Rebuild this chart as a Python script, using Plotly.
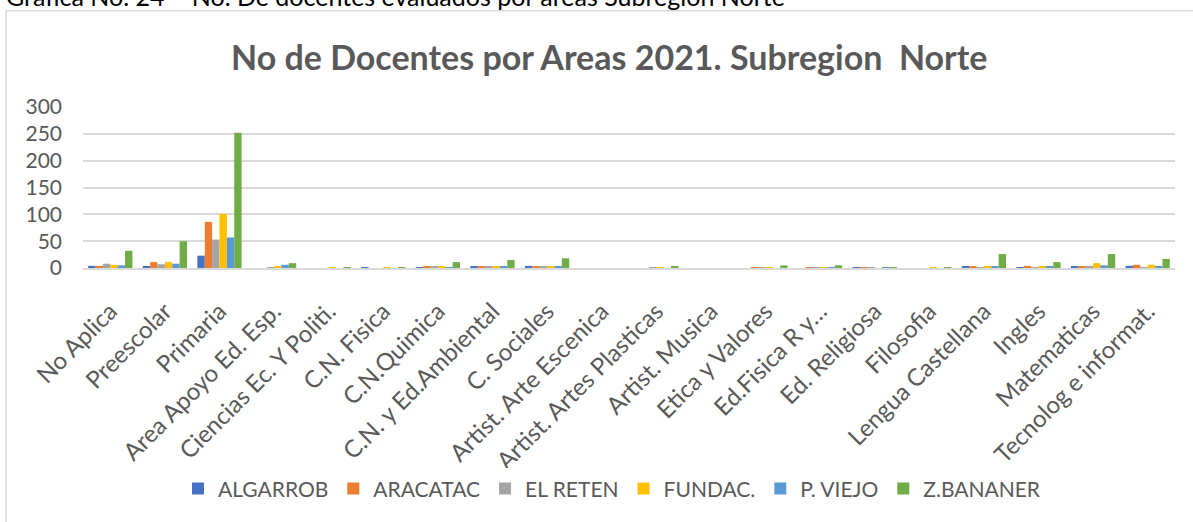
import plotly.graph_objects as go

categories = ["No Aplica", "Preescolar", "Primaria", "Area Apoyo Ed. Esp.", "Ciencias Ec. Y Politi.",
              "C.N. Fisica", "C.N.Quimica", "C.N. y Ed.Ambiental", "C. Sociales", "Artist. Arte Escenica",
              "Artist. Artes Plasticas", "Artist. Musica", "Etica y Valores", "Ed.Fisica R y…", "Ed. Religiosa",
              "Filosofia", "Lengua Castellana", "Ingles", "Matematicas", "Tecnolog e informat."]

series_names = ["ALGARROB", "ARACATAC", "EL RETEN", "FUNDAC.", "P. VIEJO", "Z.BANANER"]

algarrob = [4, 2, 23, 0, 0, 1, 1, 3, 4, 0, 0, 0, 0, 0, 1, 0, 3, 1, 2, 4]
aracatac = [4, 11, 86, 0, 0, 0, 2, 3, 3, 0, 0, 0, 1, 1, 1, 0, 3, 4, 3, 6]
el_reten = [8, 7, 53, 1, 0, 0, 3, 2, 3, 0, 1, 0, 1, 1, 1, 0, 1, 1, 4, 1]
fundac = [6, 11, 101, 2, 1, 1, 3, 3, 3, 0, 1, 0, 1, 1, 0, 1, 4, 3, 9, 6]
p_viejo = [5, 8, 57, 6, 0, 0, 1, 3, 3, 0, 0, 0, 0, 1, 1, 0, 3, 3, 5, 2]
z_bananer = [32, 50, 252, 9, 1, 1, 11, 15, 18, 0, 3, 0, 5, 5, 1, 1, 26, 11, 26, 17]

values = [algarrob, aracatac, el_reten, fundac, p_viejo, z_bananer]
colors = ["#4472C4", "#ED7D31", "#A5A5A5", "#FFC000", "#5B9BD5", "#70AD47"]

FONT = "Lato, Open Sans, sans-serif"
TXT = "#595959"

fig = go.Figure()
for name, vals, col in zip(series_names, values, colors):
    fig.add_trace(go.Bar(name=name, x=categories, y=vals, marker=dict(color=col, line=dict(width=0))))

W, H = 1193, 522
L, R, T, B = 83, 18, 107, 251
pw = W - L - R
ph = H - T - B

def px_x(x):
    return (x - L) / pw

def px_y(y):
    return (H - B - y) / ph

fig.update_layout(
    width=W, height=H,
    margin=dict(l=L, r=R, t=T, b=B),
    paper_bgcolor="white", plot_bgcolor="white",
    barmode="group", bargap=0.19, bargroupgap=0,
    font=dict(family=FONT, color=TXT),
    showlegend=True,
    legend=dict(orientation="h", x=px_x(612), xanchor="center", y=px_y(496), yanchor="middle",
                font=dict(size=21, color=TXT, family=FONT), itemwidth=30, traceorder="normal"),
    xaxis=dict(tickangle=-45, tickfont=dict(size=24, color=TXT, family=FONT),
               showline=True, linecolor="#D9D9D9", linewidth=1.5, ticks="", showgrid=False,
               ticklabelstandoff=18, automargin=False),
    yaxis=dict(range=[0, 300], dtick=50, tickfont=dict(size=21, color=TXT, family=FONT),
               showgrid=True, gridcolor="#D9D9D9", gridwidth=1.5, zeroline=False, showline=False,
               ticks="", ticklen=0, ticklabelstandoff=20, automargin=False),
    annotations=[
        dict(text="<b>No de Docentes por Areas 2021. Subregion  Norte</b>", xref="paper", yref="paper",
             x=px_x(609), y=px_y(56), xanchor="center", yanchor="middle", showarrow=False,
             font=dict(size=34, color=TXT, family=FONT)),
        dict(text="Grafica No. 24 – No. De docentes evaluados por areas Subregion Norte", xref="paper", yref="paper",
             x=px_x(4), y=px_y(-6), xanchor="left", yanchor="middle", showarrow=False,
             font=dict(size=25, color="#000000", family=FONT)),
    ],
    shapes=[
        dict(type="rect", xref="paper", yref="paper", x0=px_x(6), x1=px_x(1260), y0=px_y(600), y1=px_y(9),
             line=dict(color="#D9D9D9", width=1.5), fillcolor="rgba(0,0,0,0)", layer="below"),
    ],
)

fig.write_html("out.html", config={"displayModeBar": False},
               post_script="document.body.style.margin='0';document.body.style.overflow='hidden';")
